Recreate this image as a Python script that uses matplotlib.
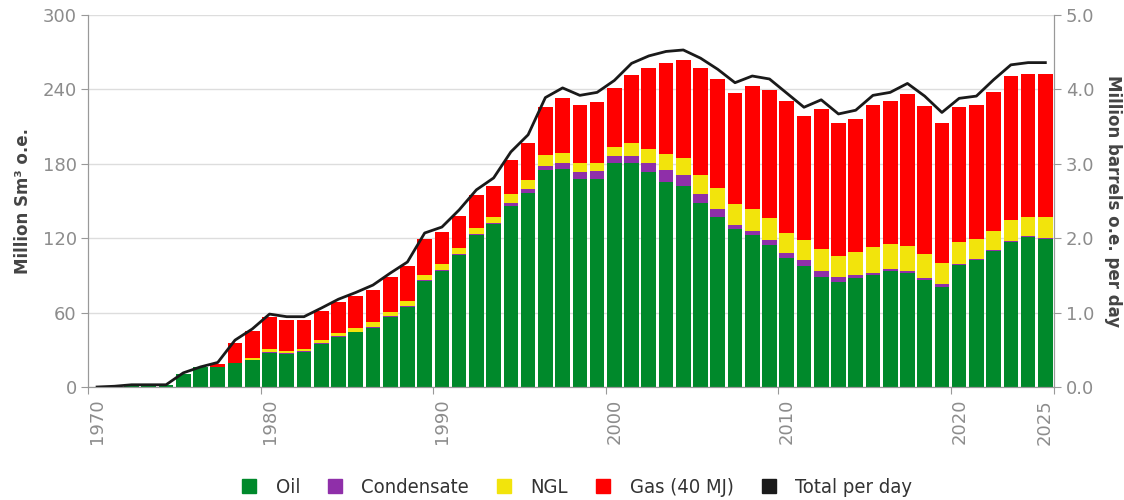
import numpy as np
import matplotlib
matplotlib.use("Agg")
import matplotlib.pyplot as plt
from matplotlib.lines import Line2D
from matplotlib.font_manager import FontProperties

# production per year, million Sm3 o.e.
years = np.arange(1971, 2026)
oil = [0.4, 1.9, 1.9, 2.0, 10.8, 16.4, 16.1, 19.6, 21.8, 27.7,
       26.6, 28.5, 35.0, 40.6, 44.1, 47.9, 56.8, 64.6, 85.6, 93.9,
       106.8, 122.7, 131.3, 146.3, 156.3, 174.8, 175.7, 168.1, 168.1, 180.5,
       180.5, 173.0, 165.5, 162.5, 148.2, 136.7, 127.8, 122.4, 114.6, 104.1,
       97.7, 88.8, 85.0, 88.0, 90.4, 93.9, 92.0, 86.4, 81.0, 98.5,
       102.2, 109.5, 117.0, 120.8, 119.5]
condensate = [0, 0, 0, 0, 0, 0, 0, 0, 0.3, 0.8,
              0.8, 0.6, 0.5, 0.6, 0.6, 0.6, 0.6, 0.6, 0.6, 0.8,
              0.8, 0.8, 0.8, 1.7, 3.2, 3.8, 4.8, 4.9, 5.7, 5.9,
              5.9, 7.5, 9.4, 8.3, 7.6, 6.7, 2.9, 3.5, 3.8, 3.8,
              4.5, 4.8, 3.5, 2.7, 1.9, 1.6, 1.6, 1.6, 1.9, 1.0,
              1.1, 0.8, 0.8, 0.8, 0.8]
ngl = [0, 0, 0, 0, 0, 0, 0, 0, 1.5, 1.9,
       1.9, 1.3, 2.4, 2.6, 2.6, 3.7, 3.4, 4.2, 3.9, 4.3,
       4.8, 5.1, 5.4, 7.5, 7.6, 8.5, 8.6, 7.5, 6.7, 6.8,
       10.3, 11.6, 13.4, 13.8, 15.0, 16.9, 16.5, 17.5, 17.5, 16.4,
       16.2, 17.3, 17.5, 18.3, 20.4, 20.2, 19.9, 19.1, 17.5, 17.3,
       16.2, 15.9, 17.0, 15.9, 17.2]
gas = [0, 0, 0, 0, 0, 0, 2.7, 15.6, 21.4, 25.9,
       25.0, 23.9, 23.2, 25.1, 26.1, 25.8, 27.7, 28.0, 29.3, 25.8,
       25.9, 26.1, 25.0, 27.7, 29.6, 38.6, 44.2, 47.1, 49.0, 47.9,
       54.9, 65.1, 72.9, 79.3, 86.4, 88.3, 89.8, 99.5, 103.3, 106.3,
       99.8, 112.9, 107.3, 107.0, 114.9, 114.6, 122.7, 119.4, 112.9, 108.9,
       108.1, 111.9, 115.7, 115.1, 115.1]

# total, million barrels o.e. per day
line_years = np.arange(1970, 2026)
total_per_day = [0.0, 0.01, 0.03, 0.03, 0.03, 0.19, 0.27, 0.33, 0.63, 0.78,
                 0.98, 0.945, 0.945, 1.06, 1.18, 1.27, 1.37, 1.53, 1.68, 2.07,
                 2.15, 2.38, 2.65, 2.81, 3.16, 3.39, 3.89, 4.02, 3.92, 3.96,
                 4.12, 4.35, 4.45, 4.51, 4.53, 4.42, 4.27, 4.09, 4.18, 4.14,
                 3.95, 3.76, 3.86, 3.67, 3.72, 3.92, 3.96, 4.08, 3.91, 3.69,
                 3.88, 3.91, 4.13, 4.33, 4.36, 4.36]

c_oil = "#00892b"
c_cond = "#8f2fa9"
c_ngl = "#f2e40c"
c_gas = "#ff0000"
c_total = "#1a1a1a"
tick_col = "#8c8c8c"
label_col = "#444444"

fig = plt.figure(figsize=(11.24, 5.0), dpi=100)
ax = fig.add_subplot(111)
fig.subplots_adjust(left=0.0787, right=0.9377, bottom=0.226, top=0.97)

x = years + 0.5
w = 0.85
b = np.zeros(len(years))
for vals, col in [(oil, c_oil), (condensate, c_cond), (ngl, c_ngl), (gas, c_gas)]:
    ax.bar(x, vals, width=w, bottom=b, color=col, linewidth=0)
    b = b + np.array(vals)

ax.set_xlim(1970, 2026)
ax.set_ylim(0, 300)
ax.set_yticks(np.arange(0, 301, 60))
ax.grid(axis="y", color="#dddddd", linewidth=1)
ax.set_axisbelow(True)

xt = [1970, 1980, 1990, 2000, 2010, 2020, 2026]
xl = ["1970", "1980", "1990", "2000", "2010", "2020", "2025"]
ax.set_xticks(xt)
ax.set_xticklabels(xl, rotation=90, ha="left")
ax.get_xticklabels()[-1].set_ha("right")

ax2 = ax.twinx()
ax2.plot(line_years + 0.5, total_per_day, color=c_total, linewidth=2)
ax2.set_ylim(0, 5.0)
ax2.set_yticks(np.arange(0, 5.01, 1.0))
ax2.set_yticklabels(["%.1f" % v for v in np.arange(0, 5.01, 1.0)])

for a in (ax, ax2):
    a.spines["top"].set_visible(False)
    for s in ("left", "right", "bottom"):
        a.spines[s].set_color("#999999")
    a.tick_params(colors="#999999", labelcolor=tick_col, labelsize=13, length=5)

ax.set_ylabel("Million Sm³ o.e.", fontsize=12, fontweight="bold", color=label_col)
ax.yaxis.set_label_coords(-0.058, 0.5)
ax2.set_ylabel("Million barrels o.e. per day", fontsize=12, fontweight="bold",
               color=label_col, rotation=270, va="bottom")
ax2.yaxis.set_label_coords(1.052, 0.5)

handles = [Line2D([], [], marker="s", linestyle="none", markersize=10, color=c)
           for c in (c_oil, c_cond, c_ngl, c_gas, c_total)]
labels = ["Oil", "Condensate", "NGL", "Gas (40 MJ)", "Total per day"]
leg_font = FontProperties(family="DejaVu Sans", stretch="condensed", size=14.5)
fig.legend(handles, labels, loc="lower center", bbox_to_anchor=(0.513, -0.03),
           ncol=5, frameon=False, prop=leg_font, labelcolor="#333333",
           handlelength=0.8, handletextpad=0.9, columnspacing=1.35)

fig.savefig("out.png", dpi=100)
